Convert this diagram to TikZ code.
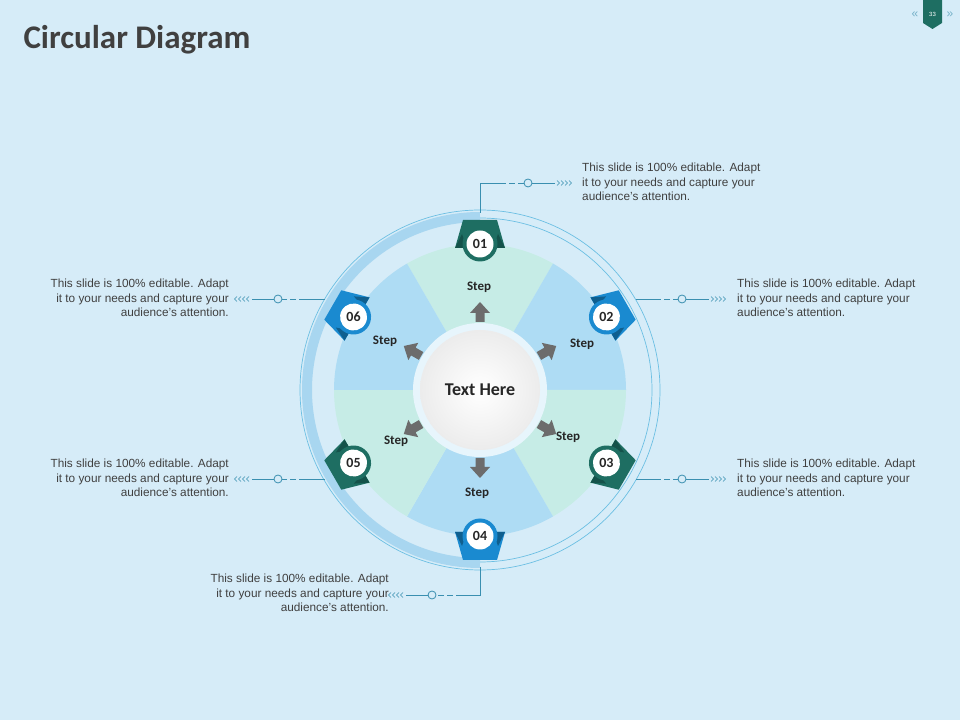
\documentclass[tikz,border=0pt]{standalone}
\usepackage{fontspec}
\setmainfont{Liberation Sans}
\newfontfamily\calfont{Carlito}
\usetikzlibrary{calc}
\definecolor{bg}{HTML}{D6ECF8}
\definecolor{tealm}{HTML}{1E6E62}
\definecolor{teald}{HTML}{14524A}
\definecolor{bluem}{HTML}{1A8AD0}
\definecolor{blued}{HTML}{0F5F8F}
\definecolor{secg}{HTML}{C6ECE6}
\definecolor{secb}{HTML}{AEDCF4}
\definecolor{band}{HTML}{A8D6F0}
\definecolor{thinc}{HTML}{6CBFE3}
\definecolor{conn}{HTML}{3A8FB0}
\definecolor{txt}{HTML}{404040}
\tikzset{
 desc/.style={font=\fontsize{11.8}{14.5}\selectfont, text=txt, inner sep=0pt},
 stepl/.style={font=\calfont\bfseries\fontsize{13}{14}\selectfont, text=black!85},
 cline/.style={draw=conn, line width=0.8pt},
 cdash/.style={cline, dash pattern=on 6pt off 3pt},
}
\newcommand{\chevs}[3]{% x, y, dir (+1 right, -1 left)
 \foreach \k in {0,1,2,3}{
  \draw[conn, line width=0.6pt] ($(#1,#2)+(#3*\k*4,2.5)$) -- ++(#3*2.5,-2.5) -- ++(-#3*2.5,-2.5);}}
\newcommand{\badge}[4]{% angle, main, dark, label
 \begin{scope}[shift={(480,330)}, rotate=#1-90, shift={(0,146)}]
  \fill[#2] (-17,24) -- (17,24) -- (25,-4) -- (-25,-4) -- cycle;
  \fill[#3] (-25,-4) -- (-13,-4) -- (-18,10) -- cycle;
  \fill[#3] (25,-4) -- (13,-4) -- (18,10) -- cycle;
  \fill[#2] (0,0) circle (17.5);
  \fill[white] (0,0) circle (13.5);
 \end{scope}
 \node[font=\calfont\bfseries\fontsize{14}{14}\selectfont, text=black!85] at ($(480,330)+(#1:146)$) {#4};
}
\newcommand{\garrow}[1]{%
 \begin{scope}[shift={(480,330)}, rotate=#1-90]
  \fill[gray!85!black] (-4.5,68) -- (4.5,68) -- (4.5,77) -- (10,77) -- (0,88) -- (-10,77) -- (-4.5,77) -- cycle;
 \end{scope}}
\begin{document}
\begin{tikzpicture}[x=1pt,y=1pt]
\fill[bg] (0,0) rectangle (960,720);
\useasboundingbox (0,0) rectangle (960,720);
% title
\node[anchor=west, font=\calfont\bfseries\fontsize{33}{33}\selectfont, text=txt] (title) at (20,680) {Circular Diagram};
% page badge
\fill[tealm] (923,720) -- (942,720) -- (942,697) -- (932.5,691) -- (923,697) -- cycle;
\node[font=\fontsize{6}{6}\selectfont, text=white] (pg) at (932.5,706) {33};
\node[font=\fontsize{12}{12}\selectfont, text=conn!70] (pl) at (915,705) {«};
\node[font=\fontsize{12}{12}\selectfont, text=conn!70] (pr) at (950,705) {»};
% rings
\draw[thinc, line width=0.7pt] (480,330) circle (180);
\draw[thinc, line width=0.7pt] (480,330) circle (172);
\draw[band, line width=10pt] (480,503) arc (90:270:173);
% sectors
\foreach \a/\c in {60/secg,0/secb,-60/secg,240/secb,180/secg,120/secb}{
 \fill[\c] (480,330) -- ++(\a:146) arc (\a:\a+60:146) -- cycle;}
% center
\fill[white!70!secb] (480,330) circle (67);
\shade[inner color=white, outer color=gray!15] (480,330) circle (60);
\node[font=\calfont\bfseries\fontsize{18}{18}\selectfont, text=black!85] (ctr) at (480,330) {Text Here};
\foreach \a in {90,30,-30,-90,-150,150}{\garrow{\a}}
% step labels
\node[stepl] (s1) at (479,433) {Step};
\node[stepl] (s2) at (582,376) {Step};
\node[stepl] (s3) at (568,283) {Step};
\node[stepl] (s4) at (477,227) {Step};
\node[stepl] (s5) at (396,279) {Step};
\node[stepl] (s6) at (385,379) {Step};
% badges
\badge{90}{tealm}{teald}{01}
\badge{30}{bluem}{blued}{02}
\badge{-30}{tealm}{teald}{03}
\badge{-90}{bluem}{blued}{04}
\badge{-150}{tealm}{teald}{05}
\badge{150}{bluem}{blued}{06}
% connectors
\coordinate (c1a) at (480,507); \coordinate (c1b) at (480,537);
\draw[cline] (c1a) -- (c1b) -- (500,537);
\draw[cdash] (500,537) -- (524,537);
\draw[cline] (532,537) -- (555,537); \draw[conn, line width=0.8pt] (528,537) circle (4);
\chevs{557}{537}{1}
\node[desc, anchor=north west, align=left] (t1) at (582,557) {This slide is 100\% editable. Adapt\\it to your needs and capture your\\audience's attention.};
% right side
\foreach \y/\n in {421/2,241/3}{
 \draw[cline] (636,\y) -- (655,\y);
 \draw[cdash] (655,\y) -- (678,\y);
 \draw[conn, line width=0.8pt] (682,\y) circle (4);
 \draw[cline] (686,\y) -- (709,\y);
 \chevs{711}{\y}{1}
 \node[desc, anchor=north west, align=left] (t\n) at (737,\y+20) {This slide is 100\% editable. Adapt\\it to your needs and capture your\\audience's attention.};
}
% left side
\foreach \y/\n in {421/6,241/5}{
 \draw[cline] (325,\y) -- (305,\y);
 \draw[cdash] (305,\y) -- (282,\y);
 \draw[conn, line width=0.8pt] (278,\y) circle (4);
 \draw[cline] (274,\y) -- (252,\y);
 \chevs{249}{\y}{-1}
 \node[desc, anchor=north east, align=right] (t\n) at (229,\y+20) {This slide is 100\% editable. Adapt\\it to your needs and capture your\\audience's attention.};
}
% bottom
\coordinate (c4a) at (480,153); \coordinate (c4b) at (480,125);
\draw[cline] (c4a) -- (c4b) -- (462,125);
\draw[cdash] (462,125) -- (436,125);
\draw[conn, line width=0.8pt] (432,125) circle (4);
\draw[cline] (428,125) -- (406,125);
\chevs{403}{125}{-1}
\node[desc, anchor=north east, align=right] (t4) at (389,146) {This slide is 100\% editable. Adapt\\it to your needs and capture your\\audience's attention.};
\end{tikzpicture}
\end{document}
